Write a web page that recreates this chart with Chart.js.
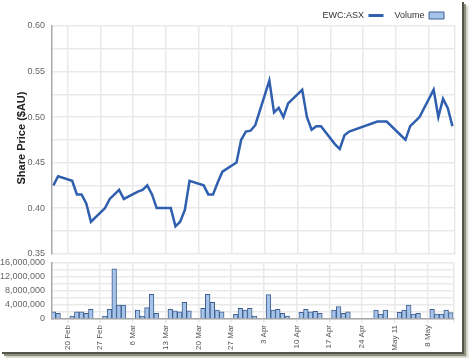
<!DOCTYPE html>
<html><head><meta charset="utf-8">
<script src="https://cdn.jsdelivr.net/npm/chart.js@4.4.0/dist/chart.umd.min.js"></script>
<style>
html,body{margin:0;padding:0;background:#fff;width:471px;height:358px;overflow:hidden;}
#frame{position:absolute;left:0;top:0;width:462px;height:352px;background:#fff;
  box-shadow:2px 2px 0 0 #55554a,4px 4px 0 0 #8f8f80,6px 6px 2px 0 #cfcfc0;}
#c1{position:absolute;left:0;top:0;}
#c2{position:absolute;left:0;top:250px;}
#ytitle{position:absolute;left:-54px;top:131px;width:150px;text-align:center;transform:rotate(-90deg);
  font:bold 11px 'Liberation Sans',Arial,sans-serif;color:#222;white-space:nowrap;line-height:14px;}
</style></head>
<body>
<div id="frame"></div>
<canvas id="c1" width="465" height="266"></canvas>
<canvas id="c2" width="465" height="103"></canvas>
<div id="ytitle">Share Price ($AU)</div>
<script>
// Trading days as offsets (days) from Sunday 20 Feb 2011
const days = [-3,-2,1,2,3,4,5,8,9,10,11,12,15,16,17,18,19,22,23,24,25,26,29,30,31,32,33,36,37,38,39,40,43,44,45,46,47,50,51,52,53,54,57,58,59,60,66,67,68,71,72,73,74,75,78,79,80,81,82];
const prices = [0.425,0.435,0.430,0.415,0.415,0.405,0.385,0.40,0.41,0.415,0.42,0.41,0.418,0.42,0.425,0.415,0.40,0.40,0.38,0.385,0.398,0.43,0.425,0.415,0.415,0.428,0.44,0.45,0.475,0.484,0.485,0.491,0.54,0.505,0.51,0.50,0.515,0.53,0.50,0.486,0.49,0.49,0.47,0.465,0.48,0.484,0.495,0.495,0.495,0.48,0.475,0.49,0.495,0.50,0.53,0.50,0.52,0.51,0.49];
const volumes = [2000000,1600000,800000,2000000,2000000,1600000,2700000,800000,2700000,14200000,3900000,3900000,2500000,800000,3200000,7000000,1600000,2700000,2300000,2000000,4700000,2300000,3000000,7000000,4700000,2500000,2000000,1300000,3000000,2500000,3000000,800000,6900000,2500000,2700000,1600000,800000,1900000,2700000,2000000,2200000,1600000,2500000,3500000,1600000,2000000,2500000,1400000,2500000,1900000,2500000,3900000,1400000,1600000,2700000,1400000,1400000,2500000,1800000];
const weekDays = [0,7,14,21,28,35,42,49,56,63,70,77];
const weekLabels = ['20 Feb','27 Feb','6 Mar','13 Mar','20 Mar','27 Mar','3 Apr','10 Apr','17 Apr','24 Apr','May 11','8 May'];
const seriesNames = ['EWC:ASX','Volume'];

const FONT = "'Liberation Sans', Arial, sans-serif";
const X_MIN = -3.3, X_MAX = 82.55;
const LINE_COLOR = '#2f5fae';
const VOL_FILL = '#a6c4ea';
const VOL_BORDER = '#3f5f8f';
const GRID = '#e9e9e9';
const AXIS = '#a8a8a8';

const priceData = days.map((d,i)=>({x:d,y:prices[i]}));
const volData = days.map((d,i)=>({x:d,y:volumes[i]}));

function weekTicks(scale){
  const t = weekDays.map(v=>({value:v}));
  t.push({value:X_MAX});
  scale.ticks = t;
}

const legendFix = {
  id:'legendFix',
  beforeLayout(chart){
    const lg = chart.legend;
    if (lg && !lg._patched){
      const orig = lg.fit;
      lg.fit = function(){ orig.call(this); this.height = 26; };
      lg._patched = true;
    }
  }
};

new Chart(document.getElementById('c1'), {
  type:'line',
  data:{datasets:[{label:seriesNames[0],data:priceData,borderColor:LINE_COLOR,backgroundColor:LINE_COLOR,
    borderWidth:2.5,pointRadius:0,tension:0,fill:false}]},
  options:{
    responsive:false,animation:false,
    layout:{padding:{left:0,right:10,top:0,bottom:0}},
    plugins:{
      tooltip:{enabled:false},
      legend:{display:true,position:'top',align:'start',rtl:true,
        labels:{usePointStyle:true,pointStyleWidth:15,boxHeight:7,padding:11,color:'#333',
          font:{family:FONT,size:9},
          generateLabels:()=>[
            {text:seriesNames[1],pointStyle:'rect',fillStyle:VOL_FILL,strokeStyle:VOL_BORDER,lineWidth:1,hidden:false,fontColor:'#333'},
            {text:seriesNames[0],pointStyle:'line',fillStyle:LINE_COLOR,strokeStyle:LINE_COLOR,lineWidth:3,hidden:false,fontColor:'#333'}
          ]}}
    },
    scales:{
      x:{type:'linear',min:X_MIN,max:X_MAX,offset:false,afterBuildTicks:weekTicks,afterFit(s){s.height=0;},
        ticks:{display:false},grid:{color:GRID,lineWidth:1.5,drawTicks:false,offset:false},border:{display:false}},
      y:{min:0.35,max:0.60,afterFit(s){s.width=52;},
        ticks:{stepSize:0.025,padding:7,autoSkip:false,color:'#666',font:{family:FONT,size:9},
          callback:(v)=>Math.abs(v*20-Math.round(v*20))<1e-6?Number(v).toFixed(2):''},
        grid:{color:GRID,lineWidth:1.5,drawTicks:false},border:{color:AXIS,width:1.5}}
    }
  },
  plugins:[legendFix]
});

new Chart(document.getElementById('c2'), {
  type:'bar',
  data:{datasets:[{label:seriesNames[1],data:volData,backgroundColor:VOL_FILL,borderColor:VOL_BORDER,
    borderWidth:1,barPercentage:1,categoryPercentage:1}]},
  options:{
    responsive:false,animation:false,
    layout:{padding:{left:0,right:10,top:0,bottom:0}},
    plugins:{legend:{display:false},tooltip:{enabled:false}},
    scales:{
      x:{type:'linear',min:X_MIN,max:X_MAX,offset:false,afterBuildTicks:weekTicks,afterFit(s){s.height=34;},
        ticks:{autoSkip:false,minRotation:90,maxRotation:90,padding:2,color:'#555',font:{family:FONT,size:8},
          callback:(v)=>{const i=weekDays.indexOf(v);return i>=0?weekLabels[i]:'';}},
        grid:{color:GRID,lineWidth:1.5,tickLength:4,offset:false},border:{color:AXIS,width:1.5}},
      y:{min:0,max:16000000,afterFit(s){s.width=52;},
        ticks:{stepSize:2000000,padding:7,autoSkip:false,color:'#666',font:{family:FONT,size:9},
          callback:(v)=>v%4000000===0?v.toLocaleString('en-US'):''},
        grid:{color:GRID,lineWidth:1.5,drawTicks:false},border:{color:AXIS,width:1.5}}
    }
  }
});
</script>
</body></html>
